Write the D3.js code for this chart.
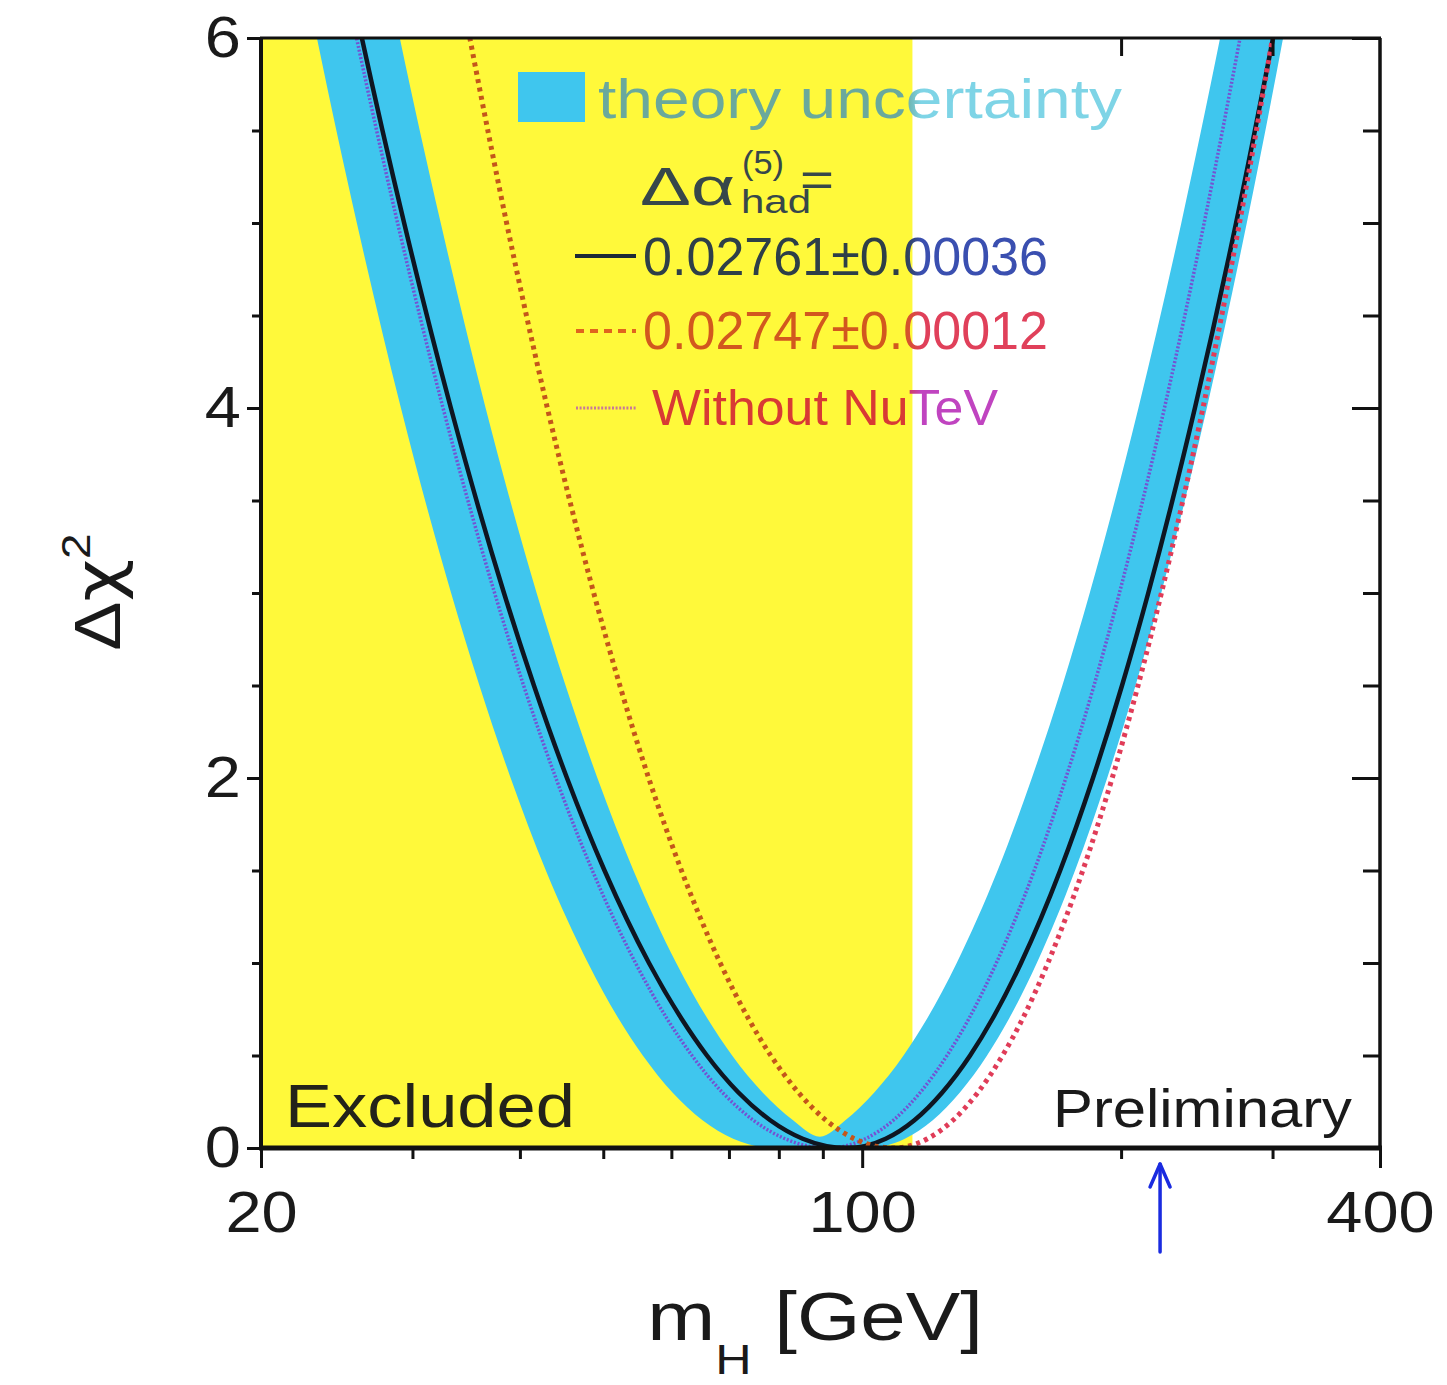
<!DOCTYPE html>
<html><head><meta charset="utf-8">
<script src="https://cdn.jsdelivr.net/npm/d3@7"></script>
<style>
body{margin:0;background:#fff}
svg{display:block}
text{font-family:"Liberation Sans",Arial,Helvetica,sans-serif}
</style>
</head><body>
<svg id="chart" width="1447" height="1385"></svg>
<script>
// ---------------- data ----------------
const chi2Levels = [6.5, 6, 5, 4, 3, 2.5, 2, 1.5, 1, 0.7, 0.5, 0.3, 0.15, 0.05, 0];

// Δα_had = 0.02761 ± 0.00036 (solid black)
const fitLowMass  = [24.86, 26.20, 29.34, 33.25, 38.33, 41.53, 45.37, 50.17, 56.51, 61.63, 65.99, 71.80, 78.18, 85.29, 96.0];
const fitHighMass = [314.9, 300.4, 272.1, 243.7, 215.1, 200.5, 185.5, 169.9, 153.0, 141.8, 133.5, 123.9, 115.0, 106.5, 96.0];

// Δα_had = 0.02747 ± 0.00012 (red dashed)
const altLowMass  = [33.38, 34.98, 38.60, 43.05, 48.74, 52.27, 56.46, 61.64, 68.38, 73.74, 78.29, 84.31, 90.78, 97.93, 108.6];
const altHighMass = [312.7, 300.0, 274.6, 249.0, 222.8, 209.3, 195.3, 180.5, 164.4, 153.7, 145.6, 136.3, 127.5, 119.1, 108.6];

// Without NuTeV (dotted)
const noNuLowMass  = [24.53, 25.83, 28.83, 32.56, 37.38, 40.40, 44.04, 48.56, 54.51, 59.29, 63.40, 68.80, 74.74, 81.33, 91.26];
const noNuHighMass = [287.7, 275.0, 249.8, 224.6, 199.1, 186.0, 172.5, 158.5, 143.2, 133.1, 125.5, 116.8, 108.7, 100.9, 91.26];

// theory uncertainty band: outer edges (all levels) and inner edges (levels 6.5 .. 0.15) + inner tip
const bandOuterLowMass  = [22.10, 23.23, 25.85, 29.09, 33.27, 35.89, 39.02, 42.88, 48.00, 52.08, 55.58, 60.18, 65.22, 70.79, 79.18];
const bandOuterHighMass = [322.9, 308.6, 280.0, 251.6, 222.7, 207.9, 192.7, 176.8, 159.6, 148.2, 139.7, 129.9, 120.8, 112.1, 101.3];
const bandInnerLowMass  = [27.56, 29.00, 32.36, 36.49, 41.83, 45.20, 49.22, 54.21, 60.79, 66.08, 70.60, 76.60, 83.11];
const bandInnerHighMass = [273.7, 260.7, 235.0, 209.5, 183.9, 170.9, 157.5, 143.7, 128.8, 119.0, 111.7, 103.3, 95.59];
const bandInnerTip = [89.3, 0.061];

const excludedLimit = 114.4;   // LEP direct search limit
const upperLimitMass = 222;    // arrow position
const xMajorTicks = [20, 100, 400];
const xMinorTicks = [30, 40, 50, 60, 70, 80, 90, 200, 300];
const yMajorTicks = [0, 2, 4, 6];
const yMinorTicks = [0.5, 1, 1.5, 2.5, 3, 3.5, 4.5, 5, 5.5];
const topTicks = [200, 300];

// ---------------- layout ----------------
const L = 261, R = 1380, T = 38, B = 1148;
const svg = d3.select("#chart");
const x = d3.scaleLog().domain([20, 400]).range([L, R]);
const y = d3.scaleLinear().domain([0, 6]).range([B, T]);

const defs = svg.append("defs");
defs.append("clipPath").attr("id", "plotClip")
  .append("rect").attr("x", L).attr("y", T).attr("width", R - L).attr("height", B - T);

const splitX = x(excludedLimit);
function twoTone(id, c1, c2) {
  const g = defs.append("linearGradient").attr("id", id)
    .attr("gradientUnits", "userSpaceOnUse")
    .attr("x1", 0).attr("x2", 1447).attr("y1", 0).attr("y2", 0);
  const o = splitX / 1447;
  g.append("stop").attr("offset", 0).attr("stop-color", c1);
  g.append("stop").attr("offset", o - 0.006).attr("stop-color", c1);
  g.append("stop").attr("offset", o + 0.006).attr("stop-color", c2);
  g.append("stop").attr("offset", 1).attr("stop-color", c2);
}
twoTone("gTheory", "#6aa99c", "#7ed4e6");
twoTone("gFit", "#2e3f48", "#3a4fb0");
twoTone("gAlt", "#d2581e", "#e0405a");
twoTone("gNoNu", "#d83a34", "#c044c0");
twoTone("gAltLine", "#c4561a", "#e03c58");

// yellow excluded region
svg.append("rect").attr("x", L).attr("y", T)
  .attr("width", x(excludedLimit) - L).attr("height", B - T)
  .attr("fill", "#fff93a");

function curvePoints(low, high, levels) {
  const pts = low.map((m, i) => [m, levels[i]]);
  for (let i = high.length - 2; i >= 0; i--) pts.push([high[i], levels[i]]);
  return pts;
}

const line = d3.line().x(d => x(d[0])).y(d => y(d[1])).curve(d3.curveMonotoneX);
const plot = svg.append("g").attr("clip-path", "url(#plotClip)");

// band
const outerPts = bandOuterLowMass.map((m, i) => [m, chi2Levels[i]]);
for (let i = 0; i < bandOuterHighMass.length; i++) {
  const j = bandOuterHighMass.length - 1 - i;
  outerPts.push([bandOuterHighMass[j], chi2Levels[j]]);
}
const innerPts = bandInnerLowMass.map((m, i) => [m, chi2Levels[i]]);
innerPts.push(bandInnerTip);
for (let j = bandInnerHighMass.length - 1; j >= 0; j--) innerPts.push([bandInnerHighMass[j], chi2Levels[j]]);
plot.append("path")
  .attr("d", line(outerPts) + line(innerPts))
  .attr("fill", "#3fc6ee").attr("fill-rule", "evenodd");

// curves
plot.append("path").attr("d", line(curvePoints(noNuLowMass, noNuHighMass, chi2Levels)))
  .attr("fill", "none").attr("stroke", "#7452d2").attr("stroke-width", 3.5)
  .attr("stroke-dasharray", "2,1.8");
plot.append("path").attr("d", line(curvePoints(fitLowMass, fitHighMass, chi2Levels)))
  .attr("fill", "none").attr("stroke", "#0e1622").attr("stroke-width", 4.5);
plot.append("path").attr("d", line(curvePoints(altLowMass, altHighMass, chi2Levels)))
  .attr("fill", "none").attr("stroke", "url(#gAltLine)").attr("stroke-width", 5)
  .attr("stroke-dasharray", "4,4.5");

// legend
const lg = svg.append("g");
lg.append("rect").attr("x", 518).attr("y", 72).attr("width", 67).attr("height", 50).attr("fill", "#3fc6ee");
lg.append("text").attr("x", 598).attr("y", 118).attr("font-size", 56)
  .attr("textLength", 524).attr("lengthAdjust", "spacingAndGlyphs")
  .attr("fill", "url(#gTheory)").text("theory uncertainty");

const da = lg.append("g").attr("fill", "#37474a");
da.append("text").attr("x", 640).attr("y", 205).attr("font-size", 54)
  .attr("font-family", '"DejaVu Sans",sans-serif')
  .attr("textLength", 95).attr("lengthAdjust", "spacingAndGlyphs").text("Δα");
da.append("text").attr("x", 742).attr("y", 174).attr("font-size", 34)
  .attr("textLength", 42).attr("lengthAdjust", "spacingAndGlyphs").text("(5)");
da.append("text").attr("x", 741).attr("y", 213).attr("font-size", 34)
  .attr("textLength", 70).attr("lengthAdjust", "spacingAndGlyphs").text("had");
da.append("text").attr("x", 800).attr("y", 196).attr("font-size", 48)
  .attr("textLength", 34).attr("lengthAdjust", "spacingAndGlyphs").text("=");

lg.append("line").attr("x1", 575).attr("x2", 636).attr("y1", 256).attr("y2", 256)
  .attr("stroke", "#1c2a36").attr("stroke-width", 4);
lg.append("text").attr("x", 643).attr("y", 275).attr("font-size", 54)
  .attr("textLength", 405).attr("lengthAdjust", "spacingAndGlyphs")
  .attr("fill", "url(#gFit)").text("0.02761±0.00036");

lg.append("line").attr("x1", 576).attr("x2", 636).attr("y1", 331).attr("y2", 331)
  .attr("stroke", "#e0641e").attr("stroke-width", 4).attr("stroke-dasharray", "8,6");
lg.append("text").attr("x", 643).attr("y", 349).attr("font-size", 54)
  .attr("textLength", 405).attr("lengthAdjust", "spacingAndGlyphs")
  .attr("fill", "url(#gAlt)").text("0.02747±0.00012");

lg.append("line").attr("x1", 576).attr("x2", 636).attr("y1", 408).attr("y2", 408)
  .attr("stroke", "#c8789a").attr("stroke-width", 3).attr("stroke-dasharray", "2,1.6");
lg.append("text").attr("x", 652).attr("y", 425).attr("font-size", 50)
  .attr("textLength", 346).attr("lengthAdjust", "spacingAndGlyphs")
  .attr("fill", "url(#gNoNu)").text("Without NuTeV");

// annotations
svg.append("text").attr("x", 285).attr("y", 1127).attr("font-size", 61)
  .attr("textLength", 290).attr("lengthAdjust", "spacingAndGlyphs")
  .attr("fill", "#23231a").text("Excluded");
svg.append("text").attr("x", 1053).attr("y", 1127).attr("font-size", 54)
  .attr("textLength", 299).attr("lengthAdjust", "spacingAndGlyphs")
  .attr("fill", "#1a1a1a").text("Preliminary");

// axes
function styleAxis(g) {
  g.select(".domain").remove();
  g.selectAll(".tick line").attr("stroke", "#111").attr("stroke-width", 3);
  g.selectAll(".tick text").attr("fill", "#1a1a1a")
    .attr("font-family", '"Liberation Sans",Arial,Helvetica,sans-serif');
}
// bottom
svg.append("g").attr("transform", `translate(0,${B})`)
  .call(d3.axisBottom(x).tickValues(xMinorTicks).tickSize(11).tickFormat(""))
  .call(styleAxis);
const bx = svg.append("g").attr("transform", `translate(0,${B})`)
  .call(d3.axisBottom(x).tickValues(xMajorTicks).tickSize(20).tickPadding(23).tickFormat(d3.format("d")))
  .call(styleAxis);
bx.selectAll(".tick text").attr("font-size", 58).attr("transform", "scale(1.12,1)");
// top
svg.append("g").attr("transform", `translate(0,${T})`)
  .call(d3.axisTop(x).tickValues(topTicks).tickSize(-18).tickFormat(""))
  .call(styleAxis);
// left
svg.append("g").attr("transform", `translate(${L},0)`)
  .call(d3.axisLeft(y).tickValues(yMinorTicks).tickSize(9).tickFormat(""))
  .call(styleAxis);
const ly = svg.append("g").attr("transform", `translate(${L},0)`)
  .call(d3.axisLeft(y).tickValues(yMajorTicks).tickSize(14).tickPadding(4).tickFormat(d3.format("d")))
  .call(styleAxis);
ly.selectAll(".tick text").attr("font-size", 58).attr("transform", "scale(1.12,1)");
// right
svg.append("g").attr("transform", `translate(${R},0)`)
  .call(d3.axisRight(y).tickValues(yMinorTicks).tickSize(-17).tickFormat(""))
  .call(styleAxis);
svg.append("g").attr("transform", `translate(${R},0)`)
  .call(d3.axisRight(y).tickValues(yMajorTicks).tickSize(-28).tickFormat(""))
  .call(styleAxis);

// frame
const fr = svg.append("g").attr("stroke", "#111").attr("fill", "none");
fr.append("line").attr("x1", L - 1).attr("x2", R + 1).attr("y1", T).attr("y2", T).attr("stroke-width", 3);
fr.append("line").attr("x1", R).attr("x2", R).attr("y1", T).attr("y2", B).attr("stroke-width", 3.5);
fr.append("line").attr("x1", L - 2).attr("x2", R + 2).attr("y1", B).attr("y2", B).attr("stroke-width", 5);
fr.append("line").attr("x1", L).attr("x2", L).attr("y1", T).attr("y2", B).attr("stroke-width", 4);

// axis titles
const xt = svg.append("text").attr("transform", "translate(815,1340) scale(1.2,1)")
  .attr("text-anchor", "middle").attr("font-size", 68).attr("fill", "#1a1a1a");
xt.append("tspan").text("m");
xt.append("tspan").attr("font-size", 42).attr("dy", 34).text("H");
xt.append("tspan").attr("dy", -34).text(" [GeV]");

const yt = svg.append("text").attr("transform", "translate(120,592) rotate(-90) scale(1.15,1)")
  .attr("text-anchor", "middle").attr("font-size", 64).attr("fill", "#1a1a1a");
yt.append("tspan").text("Δ");
yt.append("tspan").attr("font-family", '"DejaVu Sans",sans-serif').text("χ");
yt.append("tspan").attr("font-size", 40).attr("dy", -30).text("2");

// arrow at upper limit
const ax = x(upperLimitMass);
const ar = svg.append("g").attr("stroke", "#1a2be0").attr("stroke-width", 3.5).attr("fill", "none")
  .attr("stroke-linecap", "round").attr("stroke-linejoin", "round");
ar.append("line").attr("x1", ax).attr("x2", ax).attr("y1", 1252).attr("y2", 1164);
ar.append("polyline").attr("points", `${ax - 10},${1187} ${ax},${1164} ${ax + 10},${1187}`);
</script>
</body></html>
